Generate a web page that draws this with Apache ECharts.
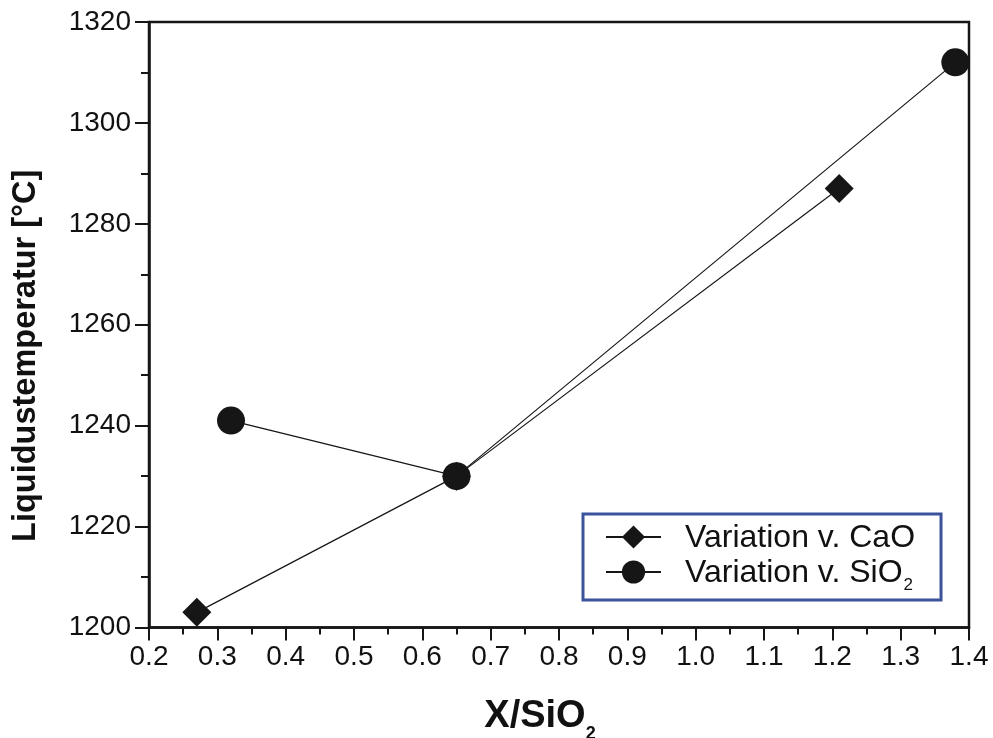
<!DOCTYPE html>
<html>
<head>
<meta charset="utf-8">
<script src="https://cdn.jsdelivr.net/npm/echarts@6/dist/echarts.min.js"></script>
<style>
  html, body { margin: 0; padding: 0; background: #fff; overflow: hidden; }
  #chart { width: 993px; height: 738px; }
</style>
</head>
<body>
<div id="chart"></div>
<script>
// Liquidus temperature against the X/SiO2 ratio
const seriesNames = ['Variation v. CaO', 'Variation v. SiO2'];
const caoX = [0.27, 0.65, 1.21];
const caoTemp = [1203, 1230, 1287];
const sio2X = [0.32, 0.65, 1.38];
const sio2Temp = [1241, 1230, 1312];
const xTicks = [0.2, 0.3, 0.4, 0.5, 0.6, 0.7, 0.8, 0.9, 1.0, 1.1, 1.2, 1.3, 1.4];
const yTicks = [1200, 1220, 1240, 1260, 1280, 1300, 1320];

const font = 'Liberation Sans, Arial, sans-serif';
const ink = '#161616';

function pairs(xs, ys) { return xs.map((x, i) => [x, ys[i]]); }

const chart = echarts.init(document.getElementById('chart'), null, { renderer: 'canvas' });

chart.setOption({
  animation: false,
  backgroundColor: '#fff',
  grid: {
    left: 149, right: 24, top: 22, bottom: 110.5,
    outerBoundsMode: 'none', containLabel: false,
    show: true, borderColor: ink, borderWidth: 2.5, backgroundColor: 'transparent'
  },
  legend: {
    orient: 'vertical',
    left: 583, top: 514,
    backgroundColor: '#fff',
    borderColor: '#3a539b', borderWidth: 3, borderRadius: 0,
    padding: [8, 26, 6, 22],
    itemWidth: 55, itemHeight: 29, itemGap: 3,
    data: seriesNames,
    formatter: function (name) {
      if (name === seriesNames[1]) return '{a|Variation v. SiO}{s|2}';
      return '{a|' + name + '}';
    },
    textStyle: {
      fontFamily: font, color: '#111',
      rich: {
        a: { fontSize: 32, lineHeight: 30, fontFamily: font, color: '#111', verticalAlign: 'top', padding: [0, 0, 0, 19] },
        s: { fontSize: 17, lineHeight: 10, fontFamily: font, color: '#111', verticalAlign: 'top', padding: [20, 0, 0, 1] }
      }
    }
  },
  xAxis: {
    type: 'value',
    min: xTicks[0], max: xTicks[xTicks.length - 1], interval: 0.1,
    name: '{b|X/SiO}{bs|2}',
    nameLocation: 'middle', nameGap: 70,
    nameTextStyle: {
      padding: [0, 38, 0, 0],
      rich: {
        b: { fontSize: 38, fontWeight: 'bold', fontFamily: font, color: '#111', lineHeight: 38, verticalAlign: 'top' },
        bs: { fontSize: 18, fontWeight: 'bold', fontFamily: font, color: '#111', lineHeight: 18, verticalAlign: 'top', padding: [28, 0, 0, 0] }
      }
    },
    axisLine: { show: true, onZero: false, lineStyle: { color: ink, width: 2.5 } },
    axisTick: { show: true, inside: false, length: 13, lineStyle: { color: ink, width: 2 } },
    minorTick: { show: true, splitNumber: 2, length: 7, lineStyle: { color: ink, width: 2 } },
    splitLine: { show: false },
    axisLabel: {
      margin: 16, fontSize: 28, fontFamily: font, color: '#111',
      formatter: v => v.toFixed(1)
    }
  },
  yAxis: {
    type: 'value',
    min: yTicks[0], max: yTicks[yTicks.length - 1], interval: 20,
    name: 'Liquidustemperatur [°C]',
    nameLocation: 'middle', nameGap: 106, nameRotate: 90,
    nameTextStyle: {
      fontSize: 32.5, fontWeight: 'bold', fontFamily: font, color: '#111',
      padding: [0, 62, 0, 0]
    },
    axisLine: { show: true, onZero: false, lineStyle: { color: ink, width: 2.5 } },
    axisTick: { show: true, inside: false, length: 14, lineStyle: { color: ink, width: 2 } },
    minorTick: { show: true, splitNumber: 2, length: 8, lineStyle: { color: ink, width: 2 } },
    splitLine: { show: false },
    axisLabel: { margin: 18, fontSize: 28, fontFamily: font, color: '#111', formatter: v => String(v) }
  },
  series: [
    {
      name: seriesNames[0], type: 'line',
      data: pairs(caoX, caoTemp),
      symbol: 'diamond', symbolSize: 29,
      lineStyle: { color: ink, width: 1.2 },
      itemStyle: { color: ink },
      z: 3
    },
    {
      name: seriesNames[1], type: 'line',
      data: pairs(sio2X, sio2Temp),
      symbol: 'circle', symbolSize: 28,
      lineStyle: { color: ink, width: 1.2 },
      itemStyle: { color: ink },
      z: 3
    }
  ]
});
</script>
</body>
</html>
